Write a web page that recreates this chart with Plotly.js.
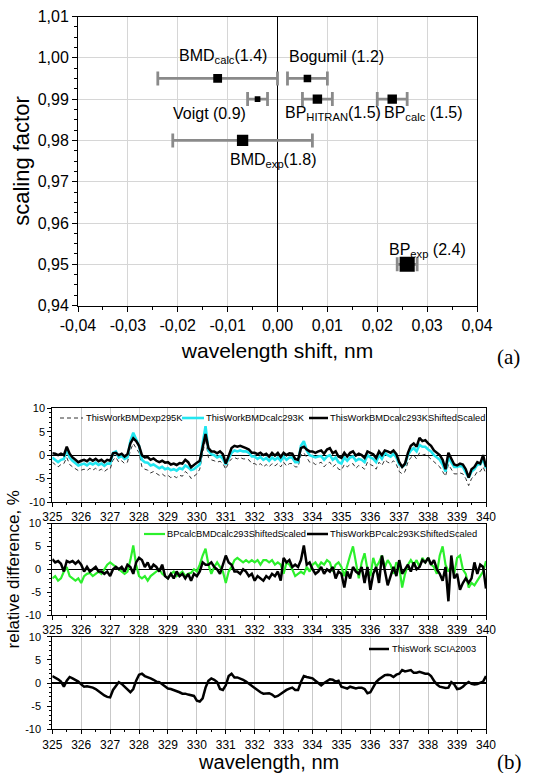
<!DOCTYPE html>
<html>
<head>
<meta charset="utf-8">
<script src="https://cdn.plot.ly/plotly-3.0.1.min.js"></script>
<style>html,body{margin:0;padding:0;background:#fff;}#chart{width:536px;height:773px;}</style>
</head>
<body>
<div id="chart"></div>
<script>
// ---------- (a) scaling factor vs wavelength shift ----------
const methodLabels = ['BMD<sub>calc</sub>(1.4)', 'Bogumil (1.2)', 'Voigt (0.9)', 'BP<sub>HITRAN</sub>(1.5)', 'BP<sub>calc</sub> (1.5)', 'BMD<sub>exp</sub>(1.8)', 'BP<sub>exp</sub> (2.4)'];
const wavelengthShift = [-0.012, 0.006, -0.004, 0.008, 0.023, -0.007, 0.026];
const shiftError = [0.012, 0.004, 0.002, 0.003, 0.003, 0.014, 0.002];
const scalingFactor = [0.995, 0.995, 0.990, 0.990, 0.990, 0.980, 0.950];
const rmsDeviation = [1.4, 1.2, 0.9, 1.5, 1.5, 1.8, 2.4];
const shiftTicks = [-0.04, -0.03, -0.02, -0.01, 0, 0.01, 0.02, 0.03, 0.04];
const shiftTickText = ['-0,04', '-0,03', '-0,02', '-0,01', '0,00', '0,01', '0,02', '0,03', '0,04'];
const scaleTicks = [0.94, 0.95, 0.96, 0.97, 0.98, 0.99, 1.00, 1.01];
const scaleTickText = ['0,94', '0,95', '0,96', '0,97', '0,98', '0,99', '1,00', '1,01'];

// ---------- (b) relative differences ----------
const wavelength = [
325.0,325.1,325.2,325.3,325.4,325.5,325.6,325.7,325.8,325.9,
326.0,326.1,326.2,326.3,326.4,326.5,326.6,326.7,326.8,326.9,
327.0,327.1,327.2,327.3,327.4,327.5,327.6,327.7,327.8,327.9,
328.0,328.1,328.2,328.3,328.4,328.5,328.6,328.7,328.8,328.9,
329.0,329.1,329.2,329.3,329.4,329.5,329.6,329.7,329.8,329.9,
330.0,330.1,330.2,330.3,330.4,330.5,330.6,330.7,330.8,330.9,
331.0,331.1,331.2,331.3,331.4,331.5,331.6,331.7,331.8,331.9,
332.0,332.1,332.2,332.3,332.4,332.5,332.6,332.7,332.8,332.9,
333.0,333.1,333.2,333.3,333.4,333.5,333.6,333.7,333.8,333.9,
334.0,334.1,334.2,334.3,334.4,334.5,334.6,334.7,334.8,334.9,
335.0,335.1,335.2,335.3,335.4,335.5,335.6,335.7,335.8,335.9,
336.0,336.1,336.2,336.3,336.4,336.5,336.6,336.7,336.8,336.9,
337.0,337.1,337.2,337.3,337.4,337.5,337.6,337.7,337.8,337.9,
338.0,338.1,338.2,338.3,338.4,338.5,338.6,338.7,338.8,338.9,
339.0,339.1,339.2,339.3,339.4,339.5,339.6,339.7,339.8,339.9,
340.0];

const bmdExp295K = [
-1.5,-2.0,-2.5,-2.0,-1.8,-0.5,-2.0,-2.5,-3.0,-3.3,
-3.2,-3.0,-3.3,-2.8,-3.2,-2.8,-3.3,-3.0,-3.5,-3.0,
-3.0,-1.0,-0.5,-1.5,-1.2,-1.8,-1.5,1.0,2.5,1.5,
0.5,-2.5,-3.0,-3.2,-3.8,-3.5,-4.0,-4.3,-4.0,-4.5,
-4.3,-4.8,-4.5,-4.8,-4.3,-4.5,-3.5,-4.0,-5.0,-4.5,
-4.0,-3.0,0.5,3.5,-0.5,-1.0,-1.2,-1.5,-1.3,-1.8,
-3.0,-1.5,-0.8,-0.5,-0.8,-0.5,-0.8,-0.8,-1.0,-1.8,
-1.8,-2.2,-1.8,-2.5,-2.0,-2.5,-1.8,-2.3,-1.8,-2.5,
-1.5,-2.3,-1.8,-1.8,-2.5,-2.5,0.0,0.5,-0.5,-1.5,
-1.5,-2.0,-1.8,-1.5,-2.5,-1.8,-1.5,-2.5,-2.0,-3.0,
-3.2,-2.0,-2.5,-2.0,-1.8,-2.8,-2.2,-2.5,-3.0,-1.5,
-2.0,-2.3,-3.0,-1.5,-2.2,-1.0,-1.5,-1.8,-1.2,-2.0,
-3.5,-4.0,-3.5,-1.5,-0.5,0.0,-0.8,0.5,0.0,0.2,
-0.3,-0.8,-1.5,-2.0,-2.5,-3.5,-4.5,-2.0,-3.0,-4.0,
-4.0,-3.8,-4.0,-5.0,-6.5,-5.0,-4.5,-3.5,-3.5,-2.5,
-4.0];

const bmdCalc293K = [
-0.5,-1.0,-1.5,-1.0,-0.8,1.3,-0.5,-1.2,-1.8,-2.2,
-2.0,-1.8,-2.2,-1.7,-2.0,-1.6,-2.1,-1.8,-2.3,-1.8,
-1.8,0.5,0.8,-0.5,-0.2,-0.8,-0.5,3.0,4.8,3.5,
2.0,-1.0,-1.5,-1.6,-2.2,-2.0,-2.5,-2.8,-2.5,-3.0,
-2.8,-3.2,-3.0,-3.3,-2.8,-3.0,-2.2,-2.6,-3.2,-3.0,
-2.5,-2.0,2.5,6.2,1.0,0.2,0.0,-0.5,-0.2,-0.8,
-2.0,-0.8,0.5,1.0,0.8,1.0,0.8,0.8,0.5,-0.3,
-0.3,-0.8,-0.4,-1.0,-0.6,-1.2,-0.5,-1.0,-0.5,-1.2,
-0.3,-1.0,-0.5,-0.5,-1.5,-1.5,2.0,3.0,1.0,0.0,
-0.2,-0.5,-0.3,-0.2,-1.0,-0.3,0.0,-1.0,-0.5,-1.5,
-1.8,-0.5,-1.2,-0.5,-0.3,-1.2,-0.8,-1.0,-1.5,0.0,
-0.5,-0.8,-1.5,0.0,-0.8,0.5,0.0,-0.3,0.3,-0.5,
-2.0,-2.5,-2.0,0.0,1.0,1.5,0.8,2.2,1.8,1.8,
1.2,0.8,0.0,-0.5,-1.0,-2.0,-3.5,-0.5,-1.5,-2.5,
-2.5,-2.2,-2.5,-3.5,-4.8,-3.5,-3.0,-2.0,-2.0,-0.8,
-2.8];

const bmdCalc293KShiftedScaled = [
0.4,0.3,0.0,0.3,0.0,1.8,0.3,-0.5,-1.0,-1.5,
-1.2,-1.0,-1.3,-0.8,-1.2,-0.8,-1.3,-1.0,-1.5,-1.0,
-1.2,0.4,0.5,0.0,0.3,-0.3,0.2,2.5,3.6,3.0,
2.0,0.0,-0.5,-0.4,-1.0,-0.7,-1.2,-1.5,-1.2,-1.6,
-1.5,-2.0,-1.8,-2.1,-1.7,-1.8,-1.0,-1.5,-2.6,-2.0,
-1.6,-1.2,2.0,4.5,1.5,0.8,0.8,0.4,0.8,0.2,
-1.8,0.0,1.5,2.0,1.8,2.0,1.8,1.5,1.2,0.5,
0.5,0.2,0.5,0.0,0.3,-0.3,0.5,-0.1,0.5,-0.4,
0.5,0.0,0.4,0.3,-0.8,-1.0,1.5,1.8,1.2,0.8,
0.8,0.5,0.8,1.0,0.3,1.2,1.5,0.4,0.8,-0.3,
-0.6,0.5,-0.3,0.5,0.8,-0.1,0.3,0.0,-0.6,0.8,
0.5,0.2,-0.6,0.8,0.0,1.0,0.8,0.5,1.0,0.2,
-1.5,-2.5,-1.8,0.5,2.0,2.5,1.8,3.7,3.0,3.2,
2.5,2.0,1.0,0.5,0.0,-1.0,-3.0,0.5,-0.8,-2.0,
-2.2,-1.8,-2.0,-3.0,-4.8,-3.0,-2.5,-1.5,-1.8,0.0,
-2.5];

const bpCalcBmdCalc293ShiftedScaled = [
-2.0,-1.5,-2.5,-2.0,-0.5,0.5,-1.5,-2.0,-2.5,-2.0,
-3.0,-1.5,-1.0,-0.8,-1.5,-1.0,-0.5,-1.0,0.0,1.0,
1.5,1.0,0.5,0.0,-0.5,-1.0,-0.5,2.0,5.2,1.0,
-1.5,-2.0,-1.5,-2.5,-1.5,-1.0,-0.5,0.0,-1.0,-1.5,
-2.0,-1.0,-0.5,-1.5,-1.0,-0.5,-1.5,-1.0,-0.8,0.0,
-0.5,1.0,3.0,4.5,1.0,-1.0,0.5,1.5,0.5,-0.5,
-3.0,-0.5,0.5,2.0,2.5,2.0,1.5,2.0,1.5,2.0,
1.5,2.0,1.0,2.0,2.0,1.5,2.0,1.0,1.5,1.0,
-1.0,1.5,1.0,0.0,-1.5,-1.0,-0.5,-1.0,0.5,-0.5,
1.0,1.5,0.5,1.5,1.0,2.0,1.5,-0.5,1.0,1.5,
0.5,-1.5,1.0,3.0,5.0,1.0,-2.0,1.5,3.5,0.0,
-1.5,2.5,0.5,1.5,3.0,0.5,2.0,1.0,-1.0,1.5,
0.5,-4.0,-1.0,1.0,2.0,1.0,2.0,0.5,2.5,1.5,
2.5,1.0,0.5,-1.0,3.0,5.0,1.0,-0.5,0.5,-1.0,
2.5,3.0,0.0,-1.0,-4.0,-3.0,-3.5,-2.5,-1.5,-0.5,
1.8];

const thisWorkBpCalc293KShiftedScaled = [
2.2,1.5,1.8,1.2,-0.5,1.8,1.5,1.8,1.2,1.8,
1.0,-0.5,0.5,-0.5,0.0,0.5,-0.5,-0.5,-1.0,-0.5,
-1.5,0.0,0.5,0.0,0.5,-0.5,1.0,0.5,-1.0,1.5,
2.5,2.0,0.5,1.5,0.0,1.0,0.5,-0.5,1.0,-1.5,
-2.0,-1.0,-2.0,-0.5,-1.5,-1.0,-2.0,-1.0,-2.5,-1.0,
-1.5,-0.5,1.5,1.0,1.0,1.5,0.5,0.0,-1.0,1.0,
3.0,1.5,1.0,-0.5,-0.5,-1.0,0.0,-0.5,-1.5,-1.0,
-2.5,-1.5,-2.0,-2.5,-1.5,-2.0,-1.0,-1.5,-0.5,-2.5,
2.5,1.5,2.0,0.5,1.0,0.5,2.0,5.2,1.0,1.5,
0.0,-1.0,-0.5,0.5,-1.0,0.0,-0.5,0.5,-2.0,-0.5,
-1.0,-4.0,-0.5,-2.0,0.5,-0.5,-1.0,0.5,-3.0,0.5,
-4.5,-1.0,0.5,-3.0,3.0,-0.5,-3.5,-1.5,0.5,-1.5,
2.0,-1.0,0.0,1.0,-0.5,1.5,0.0,0.5,2.0,1.5,
2.5,1.0,2.0,0.0,-1.0,-2.5,0.5,-7.0,3.0,-2.0,
-1.0,-4.5,-3.0,-2.0,-3.0,-2.0,1.5,-1.0,1.0,0.5,
-4.2];

const thisWorkScia2003 = [
1.5,1.2,0.8,0.3,-0.8,0.5,1.3,1.0,0.7,0.3,
-0.3,-0.8,-0.7,-0.8,-1.0,-1.3,-1.8,-2.3,-2.7,-3.0,
-3.1,-1.5,-0.5,0.2,-0.2,-0.8,-1.5,-2.0,-1.3,0.5,
1.8,2.0,1.5,1.3,1.0,0.7,0.3,0.2,-0.3,-0.8,
-1.2,-1.3,-1.5,-1.8,-2.0,-2.3,-2.3,-2.5,-2.7,-2.8,
-3.8,-4.0,-3.3,-1.0,0.5,1.0,0.7,0.2,-1.3,-1.5,
-0.5,1.5,2.0,1.2,1.2,1.0,0.7,0.3,-0.2,-0.7,
-1.0,-1.5,-2.0,-2.3,-2.2,-2.2,-2.5,-3.0,-2.8,-2.3,
-1.8,-1.5,-1.2,-1.0,-1.5,-1.5,0.2,1.5,1.3,1.2,
1.0,0.5,0.0,-0.5,0.0,0.5,0.8,0.7,0.3,0.5,
-0.8,-1.0,-1.2,-0.8,-1.0,-1.2,-1.0,-1.0,-1.3,-2.2,
-2.0,-0.8,0.2,0.8,1.2,1.7,1.8,1.7,1.3,1.8,
2.0,2.8,2.5,2.6,2.8,2.2,2.2,2.4,2.2,2.0,
2.0,1.5,0.5,-0.3,-0.8,-1.0,-1.1,-1.0,0.2,-0.3,
-1.3,-1.2,-0.8,-0.2,0.2,-0.2,-0.3,-0.2,0.0,0.3,
1.5];

const legendNames = ['ThisWorkBMDexp295K', 'ThisWorkBMDcalc293K', 'ThisWorkBMDcalc293KShiftedScaled',
  'BPcalcBMDcalc293ShiftedScaled', 'ThisWorkBPcalc293KShiftedScaled', 'ThisWork SCIA2003'];
const bTicks = [325,326,327,328,329,330,331,332,333,334,335,336,337,338,339,340];
const diffTicks = [-10, -5, 0, 5, 10];

// ---------- build ----------
const W = 536, H = 773;
const px = v => v / W;
const py = v => 1 - v / H;
const fontA = 'Liberation Sans, Arial, sans-serif';

const styles = [
  { color: '#333333', width: 1, dash: '4px,3px' },
  { color: '#22e6f0', width: 2.6, dash: 'solid' },
  { color: '#000000', width: 2.5, dash: 'solid' },
  { color: '#2cf02c', width: 2.2, dash: 'solid' },
  { color: '#000000', width: 2.5, dash: 'solid' },
  { color: '#000000', width: 2.5, dash: 'solid' }
];
const seriesY = [bmdExp295K, bmdCalc293K, bmdCalc293KShiftedScaled, bpCalcBmdCalc293ShiftedScaled, thisWorkBpCalc293KShiftedScaled, thisWorkScia2003];
const seriesAx = [['x2','y2'],['x2','y2'],['x2','y2'],['x3','y3'],['x3','y3'],['x4','y4']];

const traces = [];
traces.push({
  type: 'scatter', mode: 'markers', x: wavelengthShift, y: scalingFactor,
  xaxis: 'x', yaxis: 'y', showlegend: false, hoverinfo: 'skip',
  marker: { symbol: 'square', color: 'rgba(0,0,0,0)', size: 2, opacity: 1 },
  error_x: { type: 'data', array: shiftError, visible: true, color: '#8a8a8a', thickness: 2.8, width: 7 }
});
traces.push({
  type: 'scatter', mode: 'markers', x: wavelengthShift, y: scalingFactor,
  xaxis: 'x', yaxis: 'y', showlegend: false, text: methodLabels,
  marker: { symbol: 'square', color: '#000', opacity: 1, size: rmsDeviation.map(r => r * 6.3), line: { width: 0 } }
});
seriesY.forEach((ys, i) => {
  traces.push({ type: 'scatter', mode: 'lines', x: wavelength, y: ys, xaxis: seriesAx[i][0], yaxis: seriesAx[i][1],
    name: legendNames[i], showlegend: false, line: styles[i] });
});

function bX(anchor, showTitle) {
  const ax = {
    anchor: anchor, domain: [px(52.3), px(486)], range: [325, 340],
    tickvals: bTicks, ticktext: bTicks.map(String),
    ticks: 'outside', ticklen: 4, tickcolor: '#000', tickwidth: 1,
    minor: { dtick: 0.5, tick0: 325, ticks: 'outside', ticklen: 2, tickcolor: '#000', showgrid: false },
    showgrid: true, gridcolor: '#c9c9c9', gridwidth: 1,
    showline: true, mirror: true, linecolor: '#000', linewidth: 1, zeroline: false,
    tickfont: { family: fontA, size: 12, color: '#000' }
  };
  if (showTitle) ax.title = { text: 'wavelength, nm', font: { family: fontA, size: 20, color: '#000' }, standoff: 2 };
  return ax;
}
function bY(anchor, top, bottom, title, labelGap) {
  const ax = {
    anchor: anchor, domain: [py(bottom), py(top)], range: [-10, 10],
    tickvals: diffTicks, ticktext: diffTicks.map(v => String(v)),
    ticks: 'outside', ticklen: 4, tickcolor: '#000', ticklabelstandoff: labelGap,
    minor: { dtick: 1, tick0: 0, ticks: 'outside', ticklen: 2, tickcolor: '#000', showgrid: false },
    showgrid: false, zeroline: true, zerolinecolor: '#000', zerolinewidth: 1.2,
    showline: true, mirror: true, linecolor: '#000', linewidth: 1,
    tickfont: { family: fontA, size: 11, color: '#000' }
  };
  if (title) ax.title = { text: title, font: { family: fontA, size: 17, color: '#000' }, standoff: 1 };
  return ax;
}

const labelPos = [
  [-0.0202, 1.0002], [0.0019, 1.0002], [-0.02135, 0.98663], [0.0011, 0.98663],
  [0.02095, 0.98663], [-0.0099, 0.97525], [0.02195, 0.95346]
];
const annotations = methodLabels.map((t, i) => ({
  xref: 'x', yref: 'y', x: labelPos[i][0], y: labelPos[i][1], text: t, showarrow: false,
  xanchor: 'left', yanchor: 'middle', font: { family: fontA, size: 16, color: '#000' }
}));
annotations.push({ xref: 'paper', yref: 'paper', x: px(508), y: py(357), text: '(a)', showarrow: false,
  xanchor: 'center', yanchor: 'middle', font: { family: 'Liberation Serif, Times New Roman, serif', size: 21, color: '#000' } });
annotations.push({ xref: 'paper', yref: 'paper', x: px(509), y: py(762), text: '(b)', showarrow: false,
  xanchor: 'center', yanchor: 'middle', font: { family: 'Liberation Serif, Times New Roman, serif', size: 21, color: '#000' } });

const legendItems = [
  { s: 0, x0: 60, x1: 83, tx: 85, y: 418 },
  { s: 1, x0: 182, x1: 204, tx: 205, y: 418 },
  { s: 2, x0: 309, x1: 328, tx: 329, y: 418 },
  { s: 3, x0: 144, x1: 165, tx: 166, y: 534 },
  { s: 4, x0: 307, x1: 328, tx: 329, y: 534 },
  { s: 5, x0: 369, x1: 389, tx: 391, y: 649 }
];
const shapes = [];
legendItems.forEach(it => {
  shapes.push({ type: 'line', xref: 'paper', yref: 'paper', x0: px(it.x0), x1: px(it.x1), y0: py(it.y), y1: py(it.y),
    line: { color: styles[it.s].color, width: styles[it.s].width, dash: styles[it.s].dash } });
  annotations.push({ xref: 'paper', yref: 'paper', x: px(it.tx), y: py(it.y), text: legendNames[it.s], showarrow: false,
    xanchor: 'left', yanchor: 'middle', borderpad: 0, font: { family: fontA, size: 9.3, color: '#000' } });
});

const layout = {
  width: W, height: H, margin: { l: 0, r: 0, t: 0, b: 0, pad: 0 },
  paper_bgcolor: '#fff', plot_bgcolor: '#fff',
  font: { family: fontA, color: '#000' },
  showlegend: false,
  xaxis: {
    anchor: 'y', domain: [px(78), px(477)], range: [-0.04, 0.04],
    tickvals: shiftTicks, ticktext: shiftTickText,
    ticks: 'outside', ticklen: 5, tickcolor: '#000',
    minor: { dtick: 0.005, tick0: 0, ticks: 'outside', ticklen: 3, tickcolor: '#000', showgrid: false },
    showgrid: true, gridcolor: '#d6d6d6', zeroline: true, zerolinecolor: '#000', zerolinewidth: 1.2,
    showline: true, mirror: true, linecolor: '#000', linewidth: 1,
    tickfont: { family: fontA, size: 16, color: '#000' },
    title: { text: 'wavelength shift, nm', font: { family: fontA, size: 21, color: '#000' }, standoff: 10 }
  },
  yaxis: {
    anchor: 'x', domain: [py(305.6), py(16.5)], range: [0.94, 1.01],
    tickvals: scaleTicks, ticktext: scaleTickText,
    ticks: 'outside', ticklen: 5, tickcolor: '#000',
    minor: { dtick: 0.0025, tick0: 0.94, ticks: 'outside', ticklen: 3, tickcolor: '#000', showgrid: false },
    showgrid: true, gridcolor: '#d6d6d6', zeroline: false,
    showline: true, mirror: true, linecolor: '#000', linewidth: 1,
    tickfont: { family: fontA, size: 16, color: '#000' },
    title: { text: 'scaling factor', font: { family: fontA, size: 22, color: '#000' }, standoff: 1 }
  },
  xaxis2: bX('y2', false), yaxis2: bY('x2', 408.3, 502, null, 0),
  xaxis3: bX('y3', false), yaxis3: bY('x3', 523.5, 615, 'relative difference, %', 4),
  xaxis4: bX('y4', true), yaxis4: bY('x4', 636.7, 729.3, null, 4),
  annotations: annotations,
  shapes: shapes
};

Plotly.newPlot('chart', traces, layout, { staticPlot: true, displayModeBar: false });
</script>
</body>
</html>
